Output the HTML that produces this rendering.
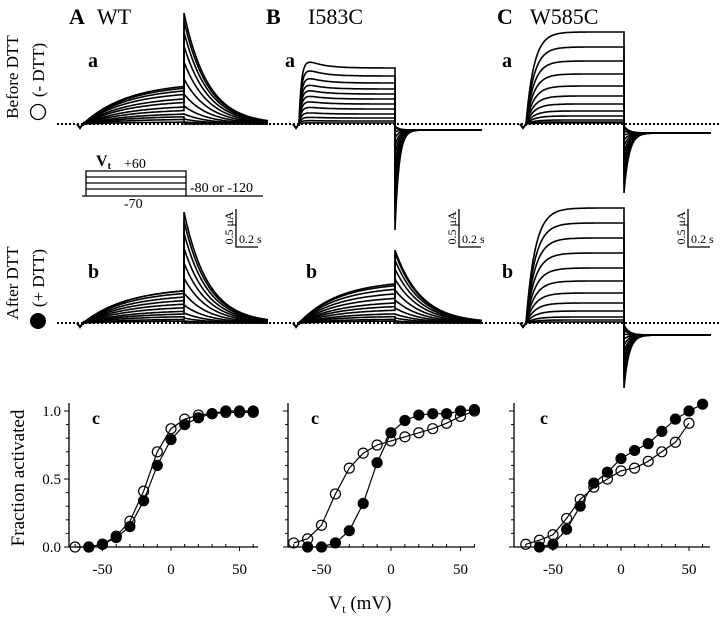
<!DOCTYPE html>
<html><head><meta charset="utf-8">
<style>
html,body{margin:0;padding:0;background:#fff;}
svg{display:block;font-family:"Liberation Serif",serif;}
</style></head>
<body>
<svg id="fig" width="720" height="619" viewBox="0 0 720 619" xmlns="http://www.w3.org/2000/svg">
  <g font-size="22">
    <text x="69" y="24" font-weight="bold">A</text>
    <text x="97" y="24">WT</text>
    <text x="266" y="24" font-weight="bold">B</text>
    <text x="308" y="24">I583C</text>
    <text x="497" y="24" font-weight="bold">C</text>
    <text x="530" y="24">W585C</text>
  </g>
  <g font-size="17">
    <text transform="translate(18,77) rotate(-90)" text-anchor="middle">Before DTT</text>
    <text transform="translate(44,70) rotate(-90)" text-anchor="middle">(- DTT)</text>
    <circle cx="38" cy="112" r="7.5" fill="none" stroke="#000" stroke-width="1.3"/>
    <text transform="translate(18,283) rotate(-90)" text-anchor="middle">After DTT</text>
    <text transform="translate(44,278) rotate(-90)" text-anchor="middle">(+ DTT)</text>
    <circle cx="38" cy="321" r="8" fill="#000"/>
  </g>
  <g font-size="20" font-weight="bold">
    <text x="88" y="67">a</text>
    <text x="285" y="67">a</text>
    <text x="502" y="67">a</text>
    <text x="88" y="278">b</text>
    <text x="306" y="278">b</text>
    <text x="502" y="278">b</text>
  </g>
  <line x1="57" y1="124" x2="720" y2="124" stroke="#000" stroke-width="2" stroke-dasharray="2,2"/>
  <line x1="57" y1="323" x2="720" y2="323" stroke="#000" stroke-width="2" stroke-dasharray="2,2"/>
  <g id="traces" fill="none" stroke="#000" stroke-width="1.6"></g>
  <g stroke="#000" stroke-width="1.3" fill="none">
    <polyline points="82,196 86,196 86,171 186,171 186,196 263,196"/>
    <line x1="86" y1="177" x2="186" y2="177"/>
    <line x1="86" y1="183" x2="186" y2="183"/>
    <line x1="86" y1="189" x2="186" y2="189"/>
    <line x1="86" y1="196" x2="186" y2="196"/>
  </g>
  <g font-size="14">
    <text x="96" y="166" font-weight="bold" font-size="16">V<tspan font-size="10" dy="3">t</tspan></text>
    <text x="124" y="168">+60</text>
    <text x="124" y="208">-70</text>
    <text x="190" y="192">-80 or -120</text>
  </g>
  <g id="scalebars"></g>
  <g id="plots"></g>
  <text transform="translate(24,478) rotate(-90)" text-anchor="middle" font-size="19">Fraction activated</text>
  <text x="360" y="609" text-anchor="middle" font-size="19">V<tspan font-size="12" dy="4">t</tspan><tspan dy="-4"> (mV)</tspan></text>
</svg>
<script>
// ---- trace amplitudes (px above baseline) ----
const wtA_step=[2,5,8,11,15,19,24,28,33,37,40,42];
const wtA_tail=[0,2,5,10,18,30,45,62,78,92,103,111];
const wtB_step=[2,4,7,10,13,17,21,25,29,33,36,36];
const wtB_tail=[0,2,5,10,18,30,45,60,75,90,102,111];
const iA_step=[1,3,6,10,15,20,25,30,35,41,48,56];
const iA_tail=[2,4,8,14,22,32,45,58,70,82,95,106];
const iB_step=[2,4,7,10,14,18,22,27,32,37,41,43];
const iB_tail=[0,2,5,9,15,23,33,44,54,63,70,73];
const cA_step=[1,2,4,8,13,20,28,38,50,63,77,92];
const cA_tail=[2,4,7,11,16,22,29,37,45,53,61,69];
const cB_step=[1,3,6,12,20,30,42,55,70,85,100,115];
const cB_tail=[2,4,7,11,16,22,29,36,43,51,58,65];

// ---- activation data ----
const vOpenA=[-70,-60,-50,-40,-30,-20,-10,0,10,20,30,40,50,60];
const fOpenA=[0,0,0.02,0.08,0.19,0.41,0.70,0.87,0.94,0.97,0.98,0.99,0.99,0.99];
const vFillA=[-60,-50,-40,-30,-20,-10,0,10,20,30,40,50,60];
const fFillA=[0,0.02,0.07,0.15,0.34,0.60,0.79,0.90,0.95,0.98,1.0,1.0,1.0];
const vOpenB=[-70,-60,-50,-40,-30,-20,-10,0,10,20,30,40,50,60];
const fOpenB=[0.03,0.06,0.16,0.39,0.58,0.69,0.75,0.78,0.81,0.84,0.87,0.91,0.96,1.0];
const vFillB=[-60,-50,-40,-30,-20,-10,0,10,20,30,40,50,60];
const fFillB=[0,0,0.03,0.12,0.32,0.62,0.84,0.93,0.97,0.98,0.98,1.0,1.01];
const vOpenC=[-70,-60,-50,-40,-30,-20,-10,0,10,20,30,40,50];
const fOpenC=[0.02,0.05,0.09,0.21,0.35,0.44,0.50,0.56,0.58,0.63,0.70,0.77,0.91];
const vFillC=[-60,-50,-40,-30,-20,-10,0,10,20,30,40,50,60];
const fFillC=[0,0.02,0.13,0.30,0.47,0.55,0.65,0.71,0.76,0.85,0.94,1.0,1.05];
const xTicks=[-50,0,50];
const yTickLabels=["0.0","0.5","1.0"];

const NS="http://www.w3.org/2000/svg";
function mk(tag,attrs,parent){const e=document.createElementNS(NS,tag);for(const k in attrs)e.setAttribute(k,attrs[k]);parent.appendChild(e);return e;}
const tr=document.getElementById('traces');

function traces(x0,x1,x2,base,steps,tails,o){
  steps.forEach((a,i)=>{
    let d=`M${x0-6},${base} L${x0-3},${base+4} L${x0},${base} L${x0},${base+2}`;
    for(let x=x0;x<=x1;x+=1){
      const t=x-x0;
      let v=a*(1-Math.exp(-t/o.rise));
      if(o.over) v+= (a/steps[steps.length-1])*o.over*Math.exp(-t/o.overTau)*(1-Math.exp(-t/1.5));
      d+=` L${x},${(base-v).toFixed(1)}`;
    }
    const tail=tails[i]*o.tailSign;
    for(let x=x1;x<=x2;x+=1){
      const t=x-x1;
      let v;
      if(o.tailSign>0) v=tail*Math.exp(-t/o.tailTau);
      else v=(tail+o.settle)*Math.exp(-t/o.tailTau)-o.settle;
      d+=` L${x},${(base-v).toFixed(1)}`;
    }
    const p=mk('path',{d:d},tr);
    
    
  });
}
traces(83,184,268,124,wtA_step,wtA_tail,{rise:45,tailSign:1,tailTau:24});
traces(83,184,268,323,wtB_step,wtB_tail,{rise:45,tailSign:1,tailTau:24});
traces(299,395,482,124,iA_step,iA_tail,{rise:3,over:15,overTau:15,tailSign:-1,tailTau:4,settle:6});
traces(299,395,482,323,iB_step,iB_tail,{rise:40,tailSign:1,tailTau:26});
traces(526,624,711,124,cA_step,cA_tail,{rise:8,tailSign:-1,tailTau:5,settle:9});
traces(526,624,711,323,cB_step,cB_tail,{rise:9,tailSign:-1,tailTau:5,settle:12});

// scale bars
const sb=document.getElementById('scalebars');
[236,459,688].forEach(x=>{
  const g=mk('g',{},sb);
  
  
  mk('polyline',{points:`${x},209 ${x},247 ${x+22},247`,fill:'none',stroke:'#000','stroke-width':1.3},g);
  mk('text',{x:x+3,y:243,'font-size':12},g).textContent='0.2 s';
  mk('text',{transform:`translate(${x-3},228) rotate(-90)`,'text-anchor':'middle','font-size':12},g).textContent='0.5 μA';
});

// activation plots
const plots=document.getElementById('plots');
const Y0=547,Y1=411;
const panels=[
 {ax:69,x0:171,k:1.37,right:258,vo:vOpenA,fo:fOpenA,vf:vFillA,ff:fFillA,lab:true,c:92},
 {ax:288,x0:391,k:1.39,right:475,vo:vOpenB,fo:fOpenB,vf:vFillB,ff:fFillB,lab:false,c:311},
 {ax:514,x0:621,k:1.36,right:710,vo:vOpenC,fo:fOpenC,vf:vFillC,ff:fFillC,lab:false,c:540}
];
function yS(f){return Y0-(Y0-Y1)*f;}
panels.forEach((p,pi)=>{
  const g=mk('g',{},plots);
  
  
  const xS=v=>p.x0+p.k*v;
  const ax=mk('line',{x1:p.ax,y1:Y0,x2:p.right,y2:Y0,stroke:'#000','stroke-width':1.3},g);
  
  
  const ay=mk('line',{x1:p.ax,y1:Y0,x2:p.ax,y2:Y1-8,stroke:'#000','stroke-width':1.3},g);
  
  
  for(let i=0;i<=10;i++){
    const y=yS(i/10);
    mk('line',{x1:p.ax-(i%5==0?5:3),y1:y,x2:p.ax,y2:y,stroke:'#000','stroke-width':1},g);
  }
  for(let v=-70;v<=60;v+=10){
    if(v%50!==0) mk('line',{x1:xS(v),y1:Y0,x2:xS(v),y2:Y0-3,stroke:'#000','stroke-width':1},g);
  }
  if(p.lab){
    yTickLabels.forEach((t,i)=>{
      const l=mk('text',{x:p.ax-8,y:yS(i*0.5)+5,'text-anchor':'end','font-size':15},g);
      
      
      l.textContent=t;
    });
  }
  xTicks.forEach(v=>{
    mk('line',{x1:xS(v),y1:Y0,x2:xS(v),y2:Y0+4,stroke:'#000','stroke-width':1},g);
    const l=mk('text',{x:xS(v),y:Y0+27,'text-anchor':'middle','font-size':15},g);
    
    
    l.textContent=String(v);
  });
  const cl=mk('text',{x:p.c,y:424,'font-size':18,'font-weight':'bold'},g);
  
  
  cl.textContent='c';
  [[p.vo,p.fo,'open'],[p.vf,p.ff,'filled']].forEach(([vs,fs,kind])=>{
    const pts=vs.map((v,i)=>`${xS(v).toFixed(1)},${yS(fs[i]).toFixed(1)}`).join(' ');
    const pl=mk('polyline',{points:pts,fill:'none',stroke:'#000','stroke-width':1.2},g);
    
    
  });
  [[p.vf,p.ff,'filled'],[p.vo,p.fo,'open']].forEach(([vs,fs,kind])=>{
    vs.forEach((v,i)=>{
      const c=mk('circle',{cx:xS(v),cy:yS(fs[i]),r:5,fill:kind=='open'?'none':'#000',stroke:'#000','stroke-width':1.2},g);
      
      
    });
  });
});
</script>
</body></html>
